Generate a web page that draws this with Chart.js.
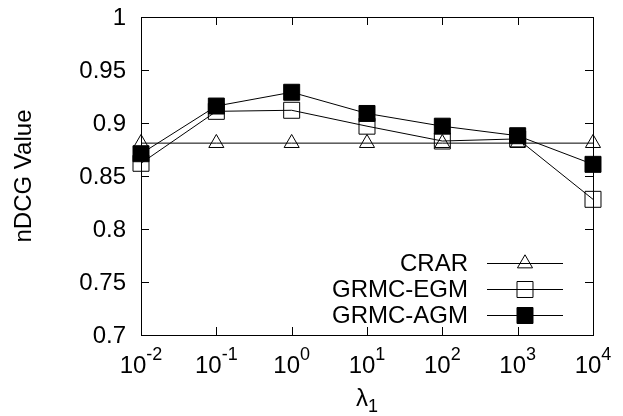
<!DOCTYPE html>
<html>
<head>
<meta charset="utf-8">
<script src="https://cdn.jsdelivr.net/npm/chart.js@4/dist/chart.umd.min.js"></script>
<style>
  body { margin: 0; background: #fff; }
  canvas { display: block; }
</style>
</head>
<body>
<canvas id="myChart" width="623" height="416"></canvas>
<script>
// lambda_1 = 10^exponent
var exponents = [-2, -1, 0, 1, 2, 3, 4];
var crar = [0.881, 0.881, 0.881, 0.881, 0.881, 0.881, 0.881];
var grmcEgm = [0.862, 0.911, 0.912, 0.897, 0.883, 0.885, 0.828];
var grmcAgm = [0.871, 0.916, 0.929, 0.909, 0.897, 0.888, 0.861];
var yTicks = [0.7, 0.75, 0.8, 0.85, 0.9, 0.95, 1];

var FONT = "'Liberation Sans', Arial, Helvetica, sans-serif";

function toPoints(values) {
    return exponents.map(function (e, i) { return { x: e, y: values[i] }; });
}

function makeSet(label, values, style, radius, fill, order) {
    return {
        label: label,
        data: toPoints(values),
        borderColor: '#000',
        borderWidth: 1,
        pointStyle: style,
        pointRadius: radius,
        pointBorderColor: '#000',
        pointBorderWidth: 1,
        pointBackgroundColor: fill,
        order: order,
        clip: false,
        tension: 0
    };
}

/////////////////////////////////////////////////////////////////
// border box, inward ticks on all four sides, labels, legend
var frame = {
    id: 'frame',
    afterDatasetsDraw: function (chart) {
        var ctx = chart.ctx, a = chart.chartArea;
        var xs = chart.scales.x, ys = chart.scales.y;
        ctx.save();
        ctx.strokeStyle = '#000';
        ctx.lineWidth = 1;
        ctx.strokeRect(a.left + 0.5, a.top + 0.5, a.right - a.left, a.bottom - a.top);
        ctx.beginPath();
        yTicks.forEach(function (v) {
            var y = Math.round(ys.getPixelForValue(v)) + 0.5;
            ctx.moveTo(a.left, y); ctx.lineTo(a.left + 8, y);
            ctx.moveTo(a.right, y); ctx.lineTo(a.right - 8, y);
        });
        exponents.forEach(function (e) {
            var x = Math.round(xs.getPixelForValue(e)) + 0.5;
            ctx.moveTo(x, a.bottom); ctx.lineTo(x, a.bottom - 8);
            ctx.moveTo(x, a.top); ctx.lineTo(x, a.top + 8);
        });
        ctx.stroke();

        // y tick labels
        ctx.fillStyle = '#000';
        ctx.font = '24px ' + FONT;
        ctx.textAlign = 'right';
        ctx.textBaseline = 'middle';
        yTicks.forEach(function (v) {
            ctx.fillText(String(v), a.left - 15, ys.getPixelForValue(v) + 1);
        });

        // x tick labels 10^e
        ctx.textBaseline = 'alphabetic';
        ctx.textAlign = 'left';
        exponents.forEach(function (e) {
            var x = xs.getPixelForValue(e);
            ctx.font = '24px ' + FONT;
            var w1 = ctx.measureText('10').width;
            ctx.font = '18px ' + FONT;
            var w2 = ctx.measureText(String(e)).width;
            var start = x - (w1 + w2) / 2;
            ctx.font = '24px ' + FONT;
            ctx.fillText('10', start, a.bottom + 38);
            ctx.font = '18px ' + FONT;
            ctx.fillText(String(e), start + w1, a.bottom + 25);
        });

        // x axis title: lambda_1
        var cx = (a.left + a.right) / 2;
        ctx.font = '24px ' + FONT;
        var wl = ctx.measureText('\u03bb').width;
        ctx.font = '18px ' + FONT;
        var ws = ctx.measureText('1').width;
        var sx = cx - (wl + ws) / 2;
        ctx.font = '24px ' + FONT;
        ctx.fillText('\u03bb', sx, a.bottom + 71);
        ctx.font = '18px ' + FONT;
        ctx.fillText('1', sx + wl, a.bottom + 77);

        // y axis title
        ctx.save();
        ctx.translate(24, (a.top + a.bottom) / 2);
        ctx.rotate(-Math.PI / 2);
        ctx.font = '24px ' + FONT;
        ctx.textAlign = 'center';
        ctx.textBaseline = 'middle';
        ctx.fillText('nDCG Value', 0, 0);
        ctx.restore();

        // legend (bottom right, inside plot)
        chart.data.datasets.forEach(function (ds, i) {
            var y = a.bottom - 72 + i * 26;
            ctx.font = '24px ' + FONT;
            ctx.textAlign = 'right';
            ctx.textBaseline = 'middle';
            ctx.fillStyle = '#000';
            ctx.fillText(ds.label, a.right - 125, y + 1);
            ctx.beginPath();
            ctx.lineWidth = 1;
            ctx.moveTo(a.right - 106, Math.round(y) + 0.5);
            ctx.lineTo(a.right - 30, Math.round(y) + 0.5);
            ctx.stroke();
            ctx.fillStyle = ds.pointBackgroundColor;
            ctx.strokeStyle = '#000';
            Chart.helpers.drawPoint(ctx, {
                pointStyle: ds.pointStyle,
                radius: ds.pointRadius,
                rotation: 0,
                borderWidth: 1
            }, a.right - 68, Math.round(y) + 0.5);
        });
        ctx.restore();
    }
};

var config = {
    type: 'line',
    data: {
        datasets: [
            makeSet('CRAR', crar, 'triangle', 8.7, 'rgba(0,0,0,0)', 2),
            makeSet('GRMC-EGM', grmcEgm, 'rect', 11.3, 'rgba(0,0,0,0)', 1),
            makeSet('GRMC-AGM', grmcAgm, 'rect', 11.3, '#000', 0)
        ]
    },
    options: {
        responsive: false,
        animation: false,
        events: [],
        layout: { padding: { top: 17, right: 30, left: 0, bottom: 0 } },
        plugins: {
            legend: { display: false },
            tooltip: { enabled: false }
        },
        scales: {
            x: {
                type: 'linear',
                min: -2,
                max: 4,
                grid: { display: false, drawTicks: false },
                border: { display: false },
                ticks: { display: false },
                afterFit: function (scale) { scale.height = 81; }
            },
            y: {
                min: 0.7,
                max: 1,
                grid: { display: false, drawTicks: false },
                border: { display: false },
                ticks: { display: false },
                afterFit: function (scale) { scale.width = 141; }
            }
        }
    },
    plugins: [frame]
};

var myChart = new Chart(document.getElementById('myChart'), config);
</script>
</body>
</html>
